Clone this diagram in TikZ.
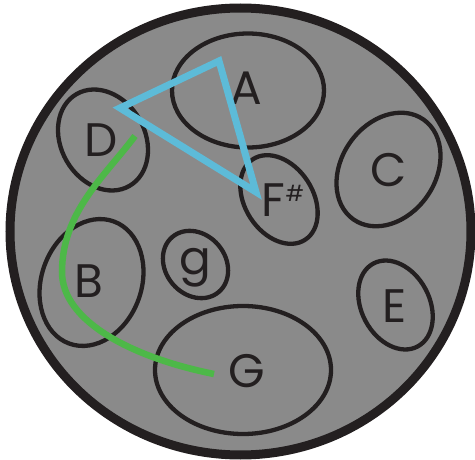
\documentclass[tikz,border=0pt]{standalone}
\usepackage{fontspec}
\setmainfont{Poppins}
\definecolor{plate}{HTML}{8A8A8A}
\definecolor{ink}{HTML}{231F20}
\definecolor{tri}{HTML}{5DBBD8}
\definecolor{arc}{HTML}{4DB848}
\tikzset{
  field/.style={draw=ink, line width=4.3pt},
  notelabel/.style={anchor=base, text=ink, inner sep=0pt, font=\fontsize{47}{47}\selectfont},
}
\begin{document}
\begin{tikzpicture}[x=1pt,y=-1pt]
\useasboundingbox (0,0) rectangle (475,460);
% plate
\draw[fill=plate, draw=ink, line width=9pt] (240.5,231.5) ellipse [x radius=230.5, y radius=223.5];
% note fields
\draw[field] (248,90.5) ellipse [x radius=76, y radius=57];
\draw[field, rotate around={-60:(103,140)}] (103,140) ellipse [x radius=53, y radius=42];
\draw[field, rotate around={-125:(388.5,169.5)}] (388.5,169.5) ellipse [x radius=61, y radius=47];
\draw[field, rotate around={-57:(279,199.5)}] (279,199.5) ellipse [x radius=48, y radius=34];
\draw[field, rotate around={-110:(91.5,282.5)}] (91.5,282.5) ellipse [x radius=65, y radius=50];
\draw[field, rotate around={-50:(195.5,264.5)}] (195.5,264.5) ellipse [x radius=36, y radius=30];
\draw[field, rotate around={-62:(395.5,305)}] (395.5,305) ellipse [x radius=47, y radius=34];
\draw[field] (243,370) ellipse [x radius=88, y radius=64];
% labels
\node[notelabel] (A) at (246,105) {A};
\node[notelabel] (D) at (101,157) {D};
\node[notelabel] (C) at (389,187) {C};
\node[notelabel] (Fs) at (283,217) {F\raisebox{15pt}{\fontsize{22}{22}\selectfont\#}};
\node[notelabel] (B) at (89,298) {B};
\node[notelabel] (g) at (195,274) {g};
\node[notelabel] (E) at (395,323) {E};
\node[notelabel] (G) at (247,387) {G};
% triangle
\coordinate (ta) at (219,61);
\coordinate (td) at (120,108);
\coordinate (tf) at (256,192);
\draw[tri, line width=7pt, line join=miter] (ta) -- (td) -- (tf) -- cycle;
% green arc
\coordinate (gs) at (135,136);
\coordinate (gm) at (62,272);
\coordinate (ge) at (214,374);
\draw[arc, line width=6.5pt] (gs) .. controls (105,176) and (62,212) .. (gm)
  .. controls (62,322) and (134,358) .. (ge);
\end{tikzpicture}
\end{document}
